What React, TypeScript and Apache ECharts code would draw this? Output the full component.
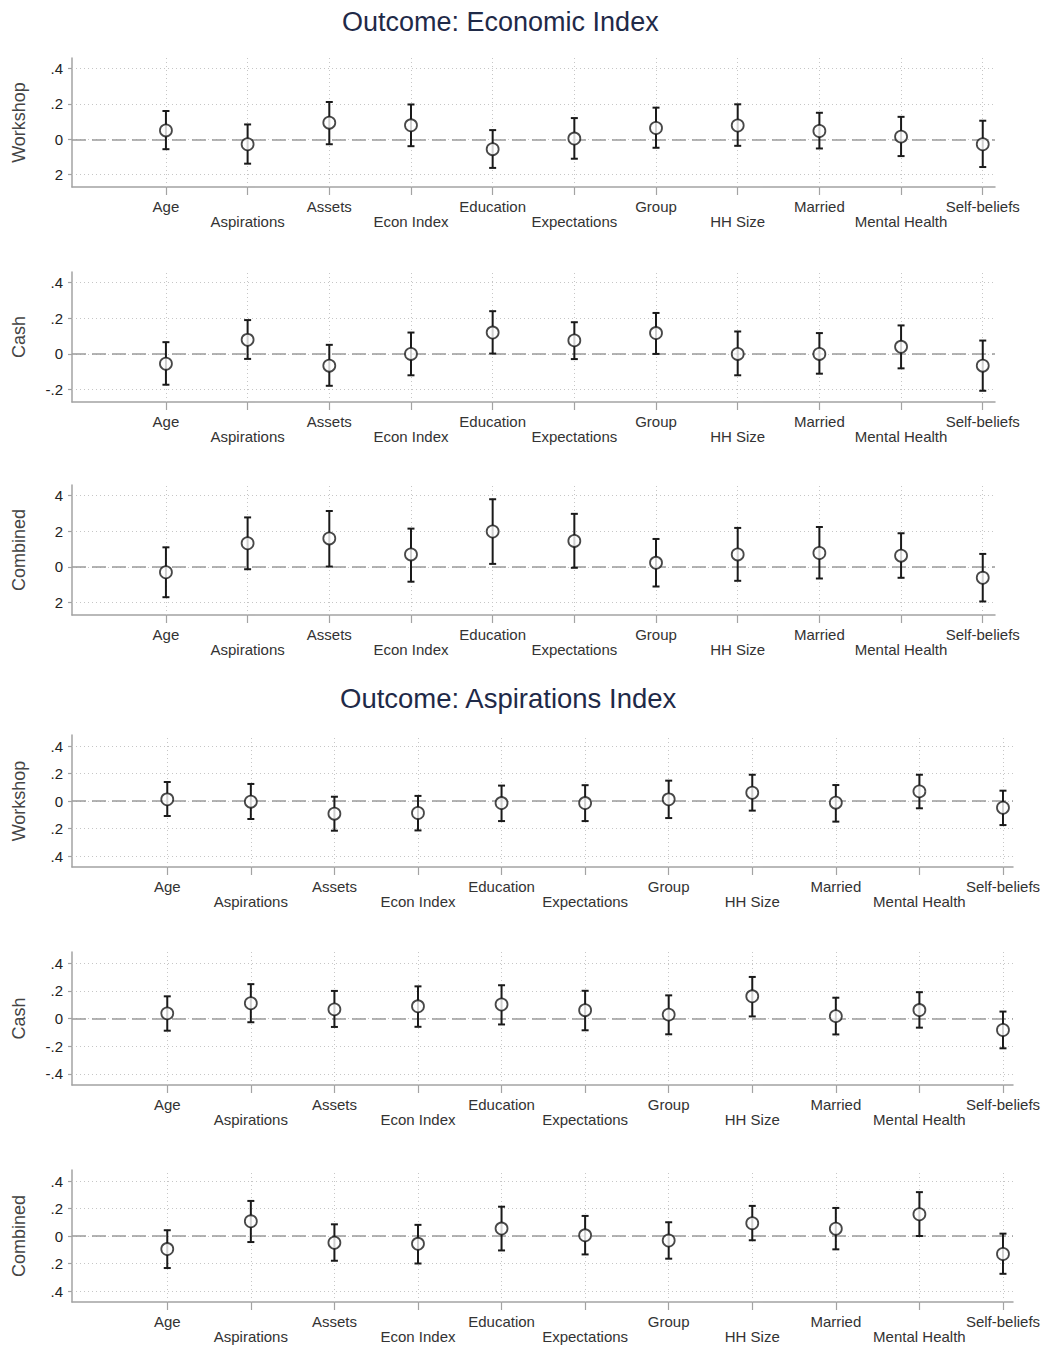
import React, { useEffect, useRef } from "react";
import * as echarts from "echarts";

const categories = ["Age", "Aspirations", "Assets", "Econ Index", "Education", "Expectations", "Group", "HH Size", "Married", "Mental Health", "Self-beliefs"];

const econWorkshopCoef = [0.05, -0.028, 0.094, 0.079, -0.056, 0.004, 0.064, 0.078, 0.047, 0.015, -0.028];
const econWorkshopLo = [-0.056, -0.138, -0.028, -0.039, -0.162, -0.11, -0.048, -0.037, -0.052, -0.095, -0.157];
const econWorkshopHi = [0.16, 0.084, 0.211, 0.197, 0.052, 0.12, 0.179, 0.198, 0.15, 0.127, 0.105];

const econCashCoef = [-0.055, 0.079, -0.066, 0.0, 0.12, 0.076, 0.117, 0.0, 0.0, 0.04, -0.066];
const econCashLo = [-0.173, -0.028, -0.179, -0.12, 0.002, -0.029, 0.0, -0.12, -0.111, -0.081, -0.207];
const econCashHi = [0.066, 0.19, 0.051, 0.12, 0.24, 0.178, 0.23, 0.126, 0.117, 0.16, 0.075];

const econCombinedCoef = [-0.03, 0.133, 0.16, 0.07, 0.199, 0.146, 0.023, 0.07, 0.078, 0.063, -0.061];
const econCombinedLo = [-0.17, -0.013, 0.002, -0.083, 0.017, -0.005, -0.11, -0.078, -0.065, -0.061, -0.194];
const econCombinedHi = [0.11, 0.278, 0.314, 0.215, 0.38, 0.298, 0.157, 0.219, 0.224, 0.189, 0.073];

const aspWorkshopCoef = [0.012, -0.005, -0.092, -0.087, -0.015, -0.015, 0.012, 0.06, -0.012, 0.07, -0.049];
const aspWorkshopLo = [-0.109, -0.131, -0.216, -0.214, -0.146, -0.146, -0.124, -0.07, -0.15, -0.053, -0.175];
const aspWorkshopHi = [0.138, 0.124, 0.031, 0.037, 0.112, 0.115, 0.148, 0.191, 0.116, 0.191, 0.075];

const aspCashCoef = [0.037, 0.11, 0.066, 0.088, 0.101, 0.06, 0.028, 0.16, 0.017, 0.061, -0.083];
const aspCashLo = [-0.088, -0.027, -0.061, -0.06, -0.043, -0.085, -0.114, 0.015, -0.115, -0.066, -0.215];
const aspCashHi = [0.16, 0.248, 0.199, 0.232, 0.24, 0.2, 0.167, 0.3, 0.15, 0.19, 0.05];

const aspCombinedCoef = [-0.095, 0.107, -0.049, -0.057, 0.054, 0.005, -0.033, 0.093, 0.053, 0.158, -0.131];
const aspCombinedLo = [-0.233, -0.044, -0.18, -0.2, -0.105, -0.134, -0.165, -0.031, -0.097, 0.0, -0.275];
const aspCombinedHi = [0.042, 0.255, 0.085, 0.081, 0.213, 0.146, 0.1, 0.219, 0.204, 0.319, 0.017];

const econTickValues = [-0.2, 0, 0.2, 0.4];
const econWorkshopTickLabels = ["2", "0", ".2", ".4"];
const econCashTickLabels = ["-.2", "0", ".2", ".4"];
const econCombinedTickLabels = ["2", "0", "2", "4"];
const aspTickValues = [-0.4, -0.2, 0, 0.2, 0.4];
const aspWorkshopTickLabels = [".4", ".2", "0", ".2", ".4"];
const aspCashTickLabels = ["-.4", "-.2", "0", ".2", ".4"];
const aspCombinedTickLabels = [".4", ".2", "0", ".2", ".4"];

const titles = ["Outcome: Economic Index", "Outcome: Aspirations Index"];
const panelNames = ["Workshop", "Cash", "Combined"];

const FONT = "'Liberation Sans', Arial, sans-serif";

export default function App() {
  const ref = useRef<HTMLDivElement>(null);

  useEffect(() => {
    if (!ref.current) return;
    const chart = echarts.init(ref.current, undefined, { renderer: "svg" });

    const panels = [
      { name: panelNames[0], coef: econWorkshopCoef, lo: econWorkshopLo, hi: econWorkshopHi, ticks: econTickValues, labels: econWorkshopTickLabels, top: 58, height: 129, right: 49, ymin: -0.27, ymax: 0.46, xmin: -1.15, xmax: 10.15 },
      { name: panelNames[1], coef: econCashCoef, lo: econCashLo, hi: econCashHi, ticks: econTickValues, labels: econCashTickLabels, top: 272, height: 130, right: 49, ymin: -0.27, ymax: 0.46, xmin: -1.15, xmax: 10.15 },
      { name: panelNames[2], coef: econCombinedCoef, lo: econCombinedLo, hi: econCombinedHi, ticks: econTickValues, labels: econCombinedTickLabels, top: 485, height: 130, right: 49, ymin: -0.27, ymax: 0.46, xmin: -1.15, xmax: 10.15 },
      { name: panelNames[0], coef: aspWorkshopCoef, lo: aspWorkshopLo, hi: aspWorkshopHi, ticks: aspTickValues, labels: aspWorkshopTickLabels, top: 735, height: 132, right: 31, ymin: -0.48, ymax: 0.48, xmin: -1.14, xmax: 10.12 },
      { name: panelNames[1], coef: aspCashCoef, lo: aspCashLo, hi: aspCashHi, ticks: aspTickValues, labels: aspCashTickLabels, top: 952, height: 133, right: 31, ymin: -0.48, ymax: 0.48, xmin: -1.14, xmax: 10.12 },
      { name: panelNames[2], coef: aspCombinedCoef, lo: aspCombinedLo, hi: aspCombinedHi, ticks: aspTickValues, labels: aspCombinedTickLabels, top: 1170, height: 132, right: 31, ymin: -0.48, ymax: 0.48, xmin: -1.14, xmax: 10.12 },
    ];

    const catIdx = categories.map((_, i) => i);
    const evenIdx = catIdx.filter((k) => k % 2 === 0);
    const oddIdx = catIdx.filter((k) => k % 2 === 1);
    const grid: any[] = [];
    const xAxis: any[] = [];
    const yAxis: any[] = [];
    const series: any[] = [];

    const xLabelStyle = { fontSize: 15, color: "#333", fontFamily: FONT, hideOverlap: false };

    panels.forEach((p, i) => {
      grid.push({ left: 72, right: p.right, top: p.top, height: p.height });
      // primary x axis: line, ticks, first row of labels
      xAxis.push({
        type: "value",
        gridIndex: i,
        min: p.xmin,
        max: p.xmax,
        axisLine: { show: true, onZero: false, lineStyle: { color: "#a3a3a3", width: 1.5 } },
        axisTick: { show: true, customValues: catIdx, length: 8, lineStyle: { color: "#a3a3a3", width: 1.2 } },
        axisLabel: {
          show: true,
          customValues: evenIdx,
          margin: 12,
          ...xLabelStyle,
          formatter: (v: number) => categories[Math.round(v)] ?? "",
        },
        splitLine: { show: false },
      });
      // secondary x axis: second row of labels only
      xAxis.push({
        type: "value",
        gridIndex: i,
        position: "bottom",
        offset: 15,
        min: p.xmin,
        max: p.xmax,
        axisLine: { show: false },
        axisTick: { show: false },
        axisLabel: {
          show: true,
          customValues: oddIdx,
          margin: 12,
          ...xLabelStyle,
          formatter: (v: number) => categories[Math.round(v)] ?? "",
        },
        splitLine: { show: false },
      });
      yAxis.push({
        type: "value",
        gridIndex: i,
        min: p.ymin,
        max: p.ymax,
        name: p.name,
        nameLocation: "middle",
        nameGap: 44,
        nameTextStyle: { fontSize: 18, color: "#444", fontFamily: FONT },
        axisLine: { show: true, onZero: false, lineStyle: { color: "#a3a3a3", width: 1.5 } },
        axisTick: { show: true, customValues: p.ticks, length: 4, lineStyle: { color: "#a3a3a3", width: 1.2 } },
        axisLabel: {
          show: true,
          customValues: p.ticks,
          margin: 9,
          fontSize: 15,
          color: "#222",
          fontFamily: FONT,
          formatter: (v: number) => {
            const k = p.ticks.findIndex((t) => Math.abs(t - v) < 1e-9);
            return k >= 0 ? p.labels[k] : "";
          },
        },
        splitLine: { show: false },
      });

      const xi = i * 2;

      series.push({
        type: "line",
        xAxisIndex: xi,
        yAxisIndex: i,
        data: p.coef.map((c, j) => [j, c]),
        showSymbol: false,
        symbol: "none",
        lineStyle: { opacity: 0 },
        silent: true,
        z: 1,
        markLine: {
          silent: true,
          z: 1,
          symbol: ["none", "none"],
          label: { show: false },
          animation: false,
          data: [
            ...p.ticks.map((t) => ({ yAxis: t, lineStyle: { type: [1, 3], color: "#c6c6c6", width: 1 } })),
            ...catIdx.map((j) => ({ xAxis: j, lineStyle: { type: [1, 3], color: "#c6c6c6", width: 1 } })),
            { yAxis: 0, lineStyle: { type: [14, 6], color: "#9a9a9a", width: 1.6 } },
          ],
        },
      });

      series.push({
        type: "custom",
        xAxisIndex: xi,
        yAxisIndex: i,
        z: 3,
        data: p.coef.map((_, j) => [j, p.lo[j], p.hi[j]]),
        encode: { x: 0, y: [1, 2] },
        renderItem: (params: any, api: any) => {
          const x = api.value(0);
          const a = api.coord([x, api.value(1)]);
          const b = api.coord([x, api.value(2)]);
          const cap = 3.5;
          const style = { stroke: "#1a1a1a", lineWidth: 2 };
          return {
            type: "group",
            children: [
              { type: "line", shape: { x1: a[0], y1: a[1], x2: b[0], y2: b[1] }, style },
              { type: "line", shape: { x1: a[0] - cap, y1: a[1], x2: a[0] + cap, y2: a[1] }, style },
              { type: "line", shape: { x1: b[0] - cap, y1: b[1], x2: b[0] + cap, y2: b[1] }, style },
            ],
          };
        },
      });

      series.push({
        type: "scatter",
        xAxisIndex: xi,
        yAxisIndex: i,
        z: 4,
        symbol: "circle",
        symbolSize: 12,
        itemStyle: { color: "#ffffff", borderColor: "#1a1a1a", borderWidth: 1.8 },
        data: p.coef.map((c, j) => [j, c]),
      });
    });

    chart.setOption({
      animation: false,
      backgroundColor: "#ffffff",
      title: [
        { text: titles[0], left: 337, top: 3, textStyle: { fontSize: 27, fontWeight: "normal", color: "#1f2a48", fontFamily: FONT } },
        { text: titles[1], left: 335, top: 679, textStyle: { fontSize: 27.5, fontWeight: "normal", color: "#1f2a48", fontFamily: FONT } },
      ],
      grid,
      xAxis,
      yAxis,
      series,
    });

    return () => chart.dispose();
  }, []);

  return <div ref={ref} style={{ position: "absolute", left: 0, top: 0, width: 1044, height: 1348 }} />;
}
